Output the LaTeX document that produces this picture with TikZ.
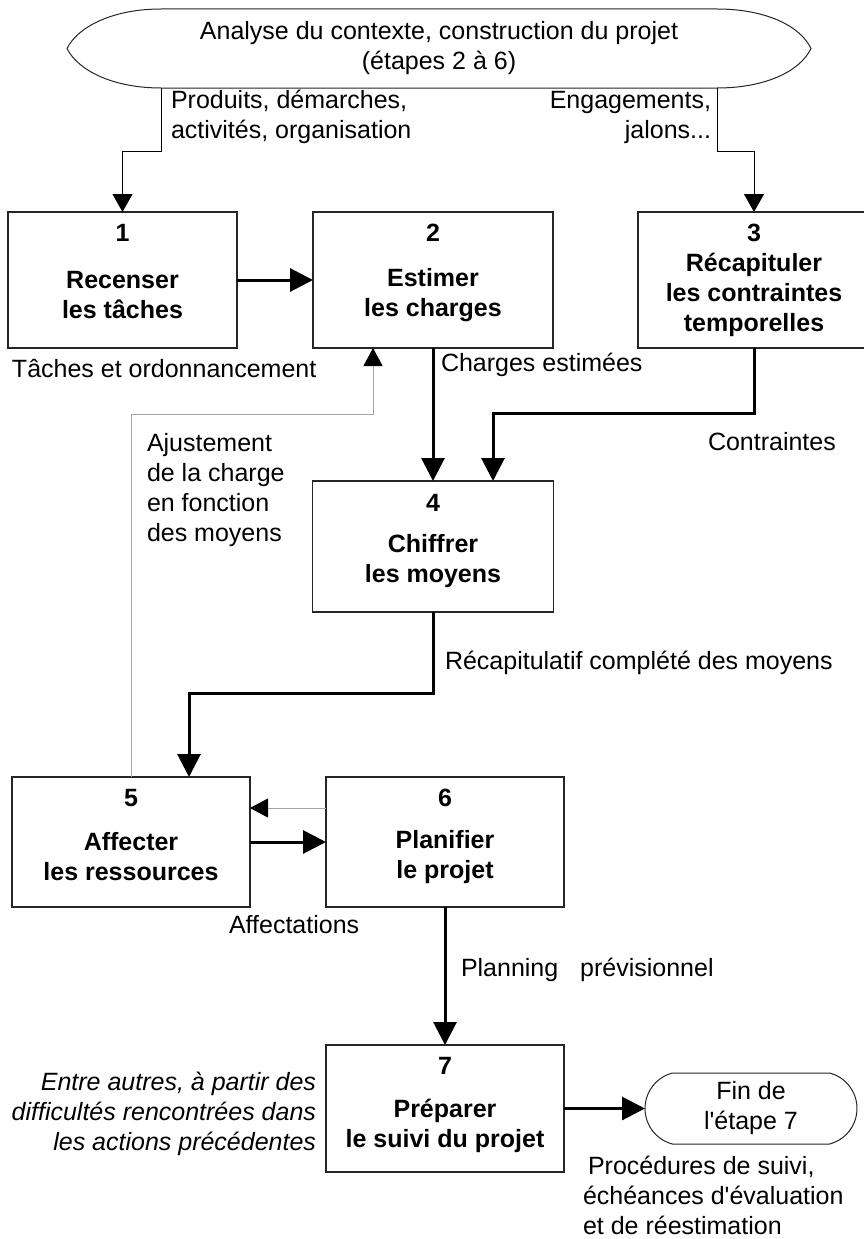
\documentclass[tikz,border=0pt]{standalone}
\usepackage{fontspec}
\setmainfont{Liberation Sans}[Ligatures=TeXOff]
\usetikzlibrary{arrows.meta,shapes.misc,calc}

\begin{document}
\begin{tikzpicture}[x=1pt,y=-1pt,
  every node/.style={font=\fontsize{25}{30}\selectfont, inner sep=0pt, outer sep=0pt},
  stepbox/.style={draw=black!85, line width=1.2pt, fill=white},
  stepnum/.style={font=\fontsize{25}{30}\selectfont\bfseries},
  steptitle/.style={align=center, font=\fontsize{25}{30}\selectfont\bfseries},
  lblleft/.style={align=left, anchor=west},
  lblright/.style={align=right, anchor=east},
  outline/.style={draw=black!85, line width=1pt},
  thinflow/.style={line width=1pt, -{Triangle[length=18pt,width=20pt]}},
  flow/.style={line width=3pt, -{Triangle[length=23pt,width=23pt]}},
  back/.style={draw=black!35, line width=1pt, -{Triangle[length=18pt,width=19pt,color=black]}}]

\clip (0,0) rectangle (864,1239);
\fill[white] (0,0) rectangle (864,1239);

% context shape at the top
\node[minimum width=556pt, minimum height=79pt, align=center] (ctx) at (439,48.5)
  {Analyse du contexte, construction du projet\\(étapes 2 à 6)};
\draw[outline] (ctx.north west) -- (ctx.north east)
  .. controls +(48,0) and +(-11,-23) .. ($(ctx.east)+(94,0)$)
  .. controls +(-11,23) and +(48,0) .. (ctx.south east)
  -- (ctx.south west)
  .. controls +(-48,0) and +(11,22) .. ($(ctx.west)+(-94,0)$)
  .. controls +(11,-22) and +(-48,0) .. (ctx.north west) -- cycle;

% step boxes
\node[stepbox, minimum width=229pt, minimum height=136pt] (b1) at (122.5,280) {};
\node[stepbox, minimum width=240pt, minimum height=136pt] (b2) at (433,280) {};
\node[stepbox, minimum width=232pt, minimum height=136pt] (b3) at (754,280) {};
\node[stepbox, minimum width=241pt, minimum height=131pt] (b4) at (433,546.5) {};
\node[stepbox, minimum width=238pt, minimum height=130pt] (b5) at (131,842) {};
\node[stepbox, minimum width=238pt, minimum height=130pt] (b6) at (445,842) {};
\node[stepbox, minimum width=238pt, minimum height=127pt] (b7) at (445,1108.5) {};

% numbers and titles
\node[stepnum] (n1) at ([yshift=-21pt]b1.north) {1};
\node[steptitle] (t1) at ([yshift=-15pt]b1.center) {Recenser\\les tâches};
\node[stepnum] (n2) at ([yshift=-21pt]b2.north) {2};
\node[steptitle] (t2) at ([yshift=-15pt]b2.center) {Estimer\\les charges};
\node[stepnum] (n3) at ([yshift=-21pt]b3.north) {3};
\node[steptitle] (t3) at ([yshift=-15pt]b3.center) {Récapituler\\les contraintes\\temporelles};
\node[stepnum] (n4) at ([yshift=-22pt]b4.north) {4};
\node[steptitle] (t4) at ([yshift=-15pt]b4.center) {Chiffrer\\les moyens};
\node[stepnum] (n5) at ([yshift=-21pt]b5.north) {5};
\node[steptitle] (t5) at ([yshift=-15pt]b5.center) {Affecter\\les ressources};
\node[stepnum] (n6) at ([yshift=-21pt]b6.north) {6};
\node[steptitle] (t6) at ([yshift=-15pt]b6.center) {Planifier\\le projet};
\node[stepnum] (n7) at ([yshift=-21pt]b7.north) {7};
\node[steptitle] (t7) at ([yshift=-17pt]b7.center) {Préparer\\le suivi du projet};

% end terminal
\node[draw=black!85, line width=1pt, rounded rectangle, rounded rectangle arc length=150,
  minimum width=212pt, minimum height=71pt, align=center] (fin) at (751,1108.5)
  {Fin de\\l'étape 7};

% connectors
\draw[thinflow] (ctx.south west) -- ++(0,63) -| (b1.north);
\draw[thinflow] (ctx.south east) -- ++(0,63) -| (b3.north);
\draw[flow] (b1.east) -- (b2.west);
\draw[flow] (b2.south) -- (b4.north);
\draw[flow] (b3.south) -- ++(0,65) -| ([xshift=60pt]b4.north);
\draw[back] (b5.north) -- ++(0,-363) -| ([xshift=-60pt]b2.south);
\draw[flow] (b4.south) -- ++(0,81) -| ([xshift=58pt]b5.north);
\draw[back] ([yshift=34pt]b6.west) -- ([yshift=34pt]b5.east);
\draw[flow] (b5.east) -- (b6.west);
\draw[flow] (b6.south) -- (b7.north);
\draw[flow] (b7.east) -- (fin.west);

% flow labels
\node[lblleft] (lprod) at (171,117) {Produits, démarches,\\activités, organisation};
\node[lblright] (leng) at (711,117) {Engagements,\\jalons...};
\node[lblleft] (ltach) at (12,369) {Tâches et ordonnancement};
\node[lblleft] (lcharg) at (441,365) {Charges estimées};
\node[lblleft] (lcontr) at (708,442) {Contraintes};
\node[lblleft] (lajust) at (147,490.5) {Ajustement\\de la charge\\en fonction\\des moyens};
\node[lblleft] (lrecap) at (445,663) {Récapitulatif complété des moyens};
\node[lblleft] (laffect) at (229,925) {Affectations};
\node[lblleft] (lplan) at (461,970) {Planning\hspace{15pt} prévisionnel};
\node[lblright, font=\fontsize{25}{30}\selectfont\itshape] (lentre) at (316,1114)
  {Entre autres, à partir des\\difficultés rencontrées dans\\les actions précédentes};
\node[lblleft] (lproc) at (583,1195)
  {\hspace*{5pt}Procédures de suivi,\\échéances d'évaluation\\et de réestimation};

\end{tikzpicture}
\end{document}
